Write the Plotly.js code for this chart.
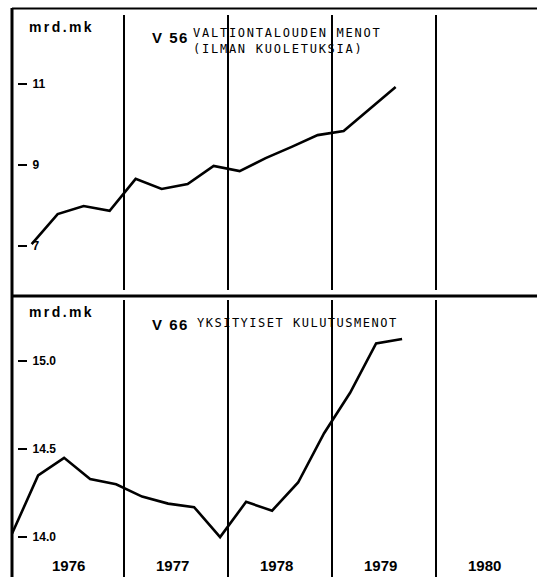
<!DOCTYPE html>
<html>
<head>
<meta charset="utf-8">
<script src="https://cdn.plot.ly/plotly-3.0.1.min.js"></script>
<style>
  html, body { margin: 0; padding: 0; background: #ffffff; }
  #chart { width: 537px; height: 577px; }
</style>
</head>
<body>
<div id="chart"></div>
<script>
// ---- data ----
const years = [1976, 1977, 1978, 1979, 1980];
const quartersV56 = ['1976 I','1976 II','1976 III','1976 IV','1977 I','1977 II','1977 III','1977 IV',
                     '1978 I','1978 II','1978 III','1978 IV','1979 I','1979 II','1979 III'];
const valuesV56 = [7.04, 7.78, 7.98, 7.86, 8.65, 8.40, 8.52, 8.97, 8.84, 9.16, 9.44, 9.73, 9.83, 10.37, 10.92];
const quartersV66 = ['1975 IV','1976 I','1976 II','1976 III','1976 IV','1977 I','1977 II','1977 III','1977 IV',
                     '1978 I','1978 II','1978 III','1978 IV','1979 I','1979 II','1979 III'];
const valuesV66 = [14.02, 14.35, 14.45, 14.33, 14.30, 14.23, 14.19, 14.17, 14.00, 14.20, 14.15, 14.31, 14.59, 14.82, 15.10, 15.125];
const ticksV56 = [7, 9, 11];
const ticksV66 = [14.0, 14.5, 15.0];
const unitLabel = 'mrd.mk';
const titleV56 = ['V 56', 'VALTIONTALOUDEN MENOT', '(ILMAN KUOLETUKSIA)'];
const titleV66 = ['V 66', 'YKSITYISET KULUTUSMENOT'];

// ---- helpers ----
const W = 537, H = 577;
const px = v => v / W;
const py = v => 1 - v / H;
const roman = {I: 0, II: 1, III: 2, IV: 3};
function qx(label, shift) {
  const parts = label.split(' ');
  return +parts[0] + roman[parts[1]] / 4 + shift;
}
const shiftTop = 0.112, shiftBottom = 0.174;

const lineStyle = {color: '#000', width: 2.6};
const traces = [
  {x: quartersV56.map(q => qx(q, shiftTop)), y: valuesV56, type: 'scatter', mode: 'lines',
   line: lineStyle, xaxis: 'x', yaxis: 'y', hoverinfo: 'skip'},
  {x: quartersV66.map(q => qx(q, shiftBottom)), y: valuesV66, type: 'scatter', mode: 'lines',
   line: lineStyle, xaxis: 'x', yaxis: 'y2', hoverinfo: 'skip'}
];

const xr0 = 1976 - 20 / 104, xr1 = 1976 + 517 / 104;
const tickFont = {family: 'Liberation Sans, Arial, sans-serif', size: 12, color: '#000', weight: 'bold'};
const yCommon = {
  anchor: 'free', position: px(17), showgrid: false, zeroline: false, showline: false,
  ticks: 'inside', ticklen: 9, tickwidth: 2, tickcolor: '#000',
  ticklabelposition: 'inside', ticklabelstandoff: 5, tickfont: tickFont
};

const shapes = [];
// frame
shapes.push({type: 'line', xref: 'paper', yref: 'paper', x0: px(12), x1: 1, y0: py(8.5), y1: py(8.5), line: {color: '#000', width: 2}});
shapes.push({type: 'line', xref: 'paper', yref: 'paper', x0: px(12), x1: 1, y0: py(296), y1: py(296), line: {color: '#000', width: 3}});
shapes.push({type: 'line', xref: 'paper', yref: 'paper', x0: px(12), x1: px(12), y0: 0, y1: py(8), line: {color: '#000', width: 3}});
// year separators
years.slice(1).forEach(yr => {
  shapes.push({type: 'line', xref: 'x', yref: 'paper', x0: yr, x1: yr, y0: py(290), y1: py(15), line: {color: '#000', width: 2}});
  shapes.push({type: 'line', xref: 'x', yref: 'paper', x0: yr, x1: yr, y0: 0, y1: py(300), line: {color: '#000', width: 2}});
});

const sans = 'Liberation Sans, Arial, sans-serif';
const mono = 'DejaVu Sans Mono, monospace';
function ann(text, x, y, font, extra) {
  return Object.assign({text: text, xref: 'paper', yref: 'paper', x: px(x), y: py(y),
    xanchor: 'left', yanchor: 'middle', align: 'left', showarrow: false, borderpad: 0, font: font}, extra || {});
}
const unitFont = {family: sans, size: 14, color: '#000', weight: 'bold'};
const codeFont = {family: sans, size: 15, color: '#000', weight: 'bold'};
const monoFont = {family: mono, size: 12, color: '#000'};
const annotations = [
  ann(unitLabel, 28, 27, unitFont),
  ann(unitLabel, 28, 312, unitFont),
  ann(titleV56[0], 151, 37, codeFont),
  ann(titleV56[1] + '<br>' + titleV56[2], 192, 41, monoFont),
  ann(titleV66[0], 151, 324, codeFont),
  ann(titleV66[1], 196, 323, monoFont)
];
years.forEach(yr => {
  annotations.push({text: String(yr), xref: 'x', yref: 'paper', x: yr + 0.47, y: py(565),
    xanchor: 'center', yanchor: 'middle', showarrow: false, borderpad: 0,
    font: {family: sans, size: 15, color: '#000', weight: 'bold'}});
});

const layout = {
  width: W, height: H, margin: {l: 0, r: 0, t: 0, b: 0},
  paper_bgcolor: '#fff', plot_bgcolor: '#fff', showlegend: false,
  xaxis: {domain: [0, 1], range: [xr0, xr1], visible: false, fixedrange: true},
  yaxis: Object.assign({}, yCommon, {domain: [py(295), py(8)], range: [5.782, 12.868],
    tickvals: ticksV56, ticktext: ticksV56.map(String), fixedrange: true}),
  yaxis2: Object.assign({}, yCommon, {domain: [0, py(297)], range: [13.773, 15.364],
    tickvals: ticksV66, ticktext: ticksV66.map(v => v.toFixed(1)), fixedrange: true}),
  shapes: shapes,
  annotations: annotations
};

Plotly.newPlot('chart', traces, layout, {staticPlot: true, displayModeBar: false}).then(() => {
  document.querySelectorAll('text.annotation-text').forEach(t => {
    const s = t.textContent;
    if (s === unitLabel) t.style.letterSpacing = '2.4px';
    else if (s === titleV56[0] || s === titleV66[0]) t.style.letterSpacing = '1.5px';
    else if (s.indexOf(titleV56[1]) === 0) t.style.letterSpacing = '1.75px';
    else if (s === titleV66[1]) t.style.letterSpacing = '1.5px';
  });
});
</script>
</body>
</html>
